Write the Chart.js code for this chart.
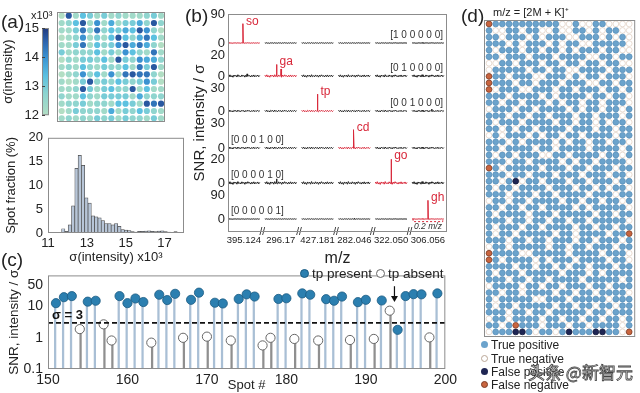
<!DOCTYPE html>
<html>
<head>
<meta charset="utf-8">
<title>tp detection figure</title>
<script src="https://cdn.jsdelivr.net/npm/chart.js@4.4.1/dist/chart.umd.min.js"></script>
<style>
  body { margin: 0; background: #fff; }
  #fig { position: relative; width: 640px; height: 393px; overflow: hidden; font-family: "Liberation Sans", Arial, sans-serif; color: #222; }
  #fig canvas { position: absolute; }
  .t { position: absolute; white-space: nowrap; line-height: 1; }
  .dot { position: absolute; border-radius: 50%; box-sizing: border-box; }
</style>
</head>
<body>
<div id="fig">
  <canvas id="heatMap" width="170" height="126" style="left:0;top:0"></canvas>
  <canvas id="colorBar" width="52" height="126" style="left:0;top:0"></canvas>
  <canvas id="histo" width="190" height="140" style="left:0;top:125px"></canvas>
  <canvas id="spectra" width="275" height="268" style="left:185px;top:0"></canvas>
  <canvas id="snrStem" width="460" height="131" style="left:0;top:262px"></canvas>
  <canvas id="kMap" width="180" height="343" style="left:460px;top:0"></canvas>

  <div class="t" style="left:1px;top:12px;font-size:19px">(a)</div>
  <div class="t" style="left:31px;top:10px;font-size:11px">x10³</div>
  <div class="t" style="left:185px;top:6px;font-size:19px">(b)</div>
  <div class="t" style="left:1px;top:250px;font-size:19px">(c)</div>
  <div class="t" style="left:461px;top:6px;font-size:19px">(d)</div>
  <div class="t" style="left:493px;top:7px;font-size:11px">m/z = [2M + K]⁺</div>

  <!-- (c) legend -->
  <div class="dot" style="left:300px;top:269px;width:9px;height:9px;background:#2b7fb0;border:1px solid #1b5b82"></div>
  <div class="t" style="left:312px;top:267px;font-size:13.5px">tp present</div>
  <div class="dot" style="left:376px;top:269px;width:9px;height:9px;background:#fff;border:1px solid #666"></div>
  <div class="t" style="left:388px;top:267px;font-size:13.5px">tp absent</div>

  <!-- (d) legend -->
  <div class="dot" style="left:481px;top:341px;width:7px;height:7px;background:#6ba3cc"></div>
  <div class="t" style="left:491px;top:339px;font-size:12px">True positive</div>
  <div class="dot" style="left:481px;top:355px;width:7px;height:7px;background:#fff;border:1px solid #b9a595"></div>
  <div class="t" style="left:491px;top:353px;font-size:12px">True negative</div>
  <div class="dot" style="left:481px;top:368px;width:7px;height:7px;background:#1e2553"></div>
  <div class="t" style="left:491px;top:366px;font-size:12px">False positive</div>
  <div class="dot" style="left:481px;top:381px;width:7px;height:7px;background:#c9653f;border:1px solid #7d3b25"></div>
  <div class="t" style="left:491px;top:379px;font-size:12px">False negative</div>
  <div class="t" style="left:528px;top:363px;font-size:17px;font-family:'Noto Sans CJK SC';color:#fff;-webkit-text-stroke:0.8px #444">头条 @新智元</div>
</div>

<script>
/* ---------- data ---------- */

// (a) σ(intensity) of every spot, one digit per spot: 0 = 12.0 ... 9 = 15.0 (x10^3)
const sigmaMapRows = [
  '081431312111231',
  '124816151335282',
  '113727243548620',
  '012613148425741',
  '113714236857520',
  '312224131642171',
  '021332418326552',
  '121421322417381',
  '012624161787720',
  '101382324323630',
  '112831342281411',
  '211421333315222',
  '122312214431878',
  '013222151324321',
  '121213231322131'
];
const sigmaLow = 12;
const sigmaHigh = 15;
const colorbarTicks = [12, 13, 14, 15];

// (a) histogram, spot fraction (%) per bin
const histStart = 11.7;
const histBinWidth = 0.17;
const histFraction = [0.9, 0.35, 1.7, 5.7, 13.6, 16.3, 14.2, 7.4, 6.3, 3.6, 3.4, 3.2, 2.6, 2.0, 2.0, 1.7, 2.0, 1.4,
  0.7, 0.6, 0.5, 0.3, 0.2, 0.35, 0.35, 0.4, 0.45, 0.35, 0.3, 0.4, 0.45, 0.3, 0.2, 0.15, 0.3];
const histTicks = [11, 13, 15, 17];

// (b) spectra, six spots x six m/z windows
const mzLabels = ['395.124', '296.17', '427.181', '282.046', '322.050', '306.056'];
const compounds = ['so', 'ga', 'tp', 'cd', 'go', 'gh'];
const barcodes = ['[1 0 0 0 0 0]', '[0 1 0 0 0 0]', '[0 0 1 0 0 0]', '[0 0 0 1 0 0]', '[0 0 0 0 1 0]', '[0 0 0 0 0 1]'];
const rowTopTick = [90, 20, 30, 30, 20, 90];
const noiseTrace = [0.8, -0.6, 1.1, -0.9, 0.4, -1.2, 0.9, -0.3, 0.7, -1.0, 1.2, -0.6, 0.3, -0.8, 1.0, -0.4, 0.6,
  -1.1, 0.8, -0.5, 1.1, -0.3, 0.4, -0.9, 0.7, -0.6, 1.0, -0.8, 0.5, -0.4, 0.9, -0.7, 0.5];
// [row, window, position in window (0..1), SNR]
const peaks = [
  [0, 0, 0.47, 60],
  [1, 1, 0.37, 11], [1, 1, 0.51, 6.7], [1, 0, 0.6, 2],
  [2, 2, 0.50, 22], [2, 5, 0.62, 2.5],
  [3, 3, 0.48, 22],
  [4, 4, 0.50, 21], [4, 1, 0.37, 3.5],
  [5, 5, 0.50, 72], [5, 3, 0.50, 2.5]
];

// (c) tp SNR for spots 151-199
const firstSpot = 151;
const spotSNR = [12.9, 20, 21.7, 1.9, 14.4, 15.4, 2.7, 0.82, 21.7, 12.9,
  18.2, 14, 0.7, 24, 16.2, 25.7, 1.0, 16.5, 28, 1.09,
  13.3, 12.6, 0.82, 17.6, 24.7, 21, 0.57, 1.0, 17.6, 18.5,
  0.92, 26.5, 24, 0.82, 17.3, 15.4, 21, 0.85, 13.9, 16.5,
  0.92, 15.7, 7.4, 1.8, 21.7, 25, 24.7, 1.03, 26.5];
// P = tp present, A = tp absent
const spotStatus = ('PPPAPPAAPP' + 'PPAPPPAPPA' + 'PPAPPPAAPP' + 'APPAPPPAPP' + 'APAPPPPAP').split('');
const snrThreshold = 3;
const snrTicks = [0.1, 1, 10, 50];

// (d) classification map, P true positive, N true negative, F false positive, X false negative
const kmapRows = [
  'XPPPPPPPPPPNNPNNPPNNNN',
  'PNNPPNPPNNPNNPPNPNPPNN',
  'PPNPPPNPNPPPNNPPPNPNPN',
  'PPPNPNPPPNPNPPNNPPPPPN',
  'PNPPPNPPNPPNPNPPPNPPNN',
  'PPNPPPNPPPNPPPPNNPPNPP',
  'NNPPNPPPNPPNPPNPPNPPNN',
  'NPPPPPNPPNPPNNPPPPNPPP',
  'XPPNPPPNNPPPNPNPPNPPPN',
  'XPPPNPPNPPPNPPPNNPPNPP',
  'XNPPPNNPPPNPPNPPPNPPNP',
  'PPPNPPPPNPNPPPPNPPNPPN',
  'PPNPPNPPPNPNPPNPPNPPPN',
  'NPPPNPPNPPPPNPNPPNPPNP',
  'PPPNPPNPPNPPPNPPNPPPNP',
  'PNPPPNPPPPNPPNPPNPNPPN',
  'PPNPNPPNPPPPNPPPNPPNPP',
  'NPNPPPNPNPPNPPNPPPPNPP',
  'PPPNPNPPPPNPNPPNPPNPPN',
  'PPNPPPPNPPNPPPPNPPPPNP',
  'PNPPNPPPNNPPNPPPPNPPNP',
  'PPPNPPNPPPPNPNPPNPPPPN',
  'XPNPPPPPNPPPNPPNPPPNPP',
  'PPPNPPNPPPNPPPNPPPNPPN',
  'PPNPFNPPNPPPNPPNPPPNPP',
  'PNPPNPPPPNPPPNPPNPNPPN',
  'PPPNPPPNPPNPPPPNPPPNPP',
  'NPPNPPNPPPPNPPNPPNPPNP',
  'PPNPPNPPNPPPPNPNPPPPPN',
  'PNPPPPNPPPNPPPPPNPPNPP',
  'PPPNPPNPPNPPNPPNPPPPPN',
  'PNPPPNPPNPPPPNPPNPPNPP',
  'PNPPNPPPPPNPPNPPPPNPPX',
  'PPPNPPNPPNPPPNPPNPPPNP',
  'NPPNPPPPPNPPNPPNPPPNPP',
  'XPPPPNNPPPPPNPPPPNPPPN',
  'XPNPPPPNPNPPPNPPPPNPPN',
  'PPPPNPPNPPNPNPPNPPPNPP',
  'PNPPPNPPPPPNPPPNPNPPPP',
  'PPPNPPNPPNPPPPNPPPPPNP',
  'NPPPPNPPNPPNPPPNPPNPPP',
  'PPNPPNPPPPNPPNPPNPPPPN',
  'PNPPPPPNNPPPNPPPPPNPPP',
  'PNPPNPPPPPNPPNPPNPPNPP',
  'PPPNPPNPPNPPPPPNPPNPPP',
  'NPPNPPPPNPPNPPNPPNPPNP',
  'PPNPXPPPNPPPNPPNPPPPNP',
  'NPPPFFPNPPNPFPPPFFPPNX'
];

/* ---------- common settings ---------- */
Chart.defaults.font.family = '"Liberation Sans", Arial, sans-serif';
Chart.defaults.color = '#222';
Chart.defaults.animation = false;
Chart.defaults.plugins.legend.display = false;
Chart.defaults.plugins.tooltip.enabled = false;

// grey box round the plot area (matlab style)
Chart.register({
  id: 'frame',
  afterDraw(chart, args, opts) {
    if (!opts.color) return;
    const {ctx, chartArea: a} = chart;
    ctx.save();
    ctx.strokeStyle = opts.color;
    ctx.lineWidth = 1;
    ctx.strokeRect(a.left + 0.5, a.top + 0.5, a.width - 1, a.height - 1);
    ctx.restore();
  }
});

const hidden = {display: false};
const noGrid = {display: false, drawTicks: false};

const heatStops = [[0, [178, 222, 196]], [0.25, [140, 212, 208]], [0.45, [92, 192, 224]], [0.65, [60, 150, 212]], [0.85, [44, 98, 172]], [1, [33, 58, 126]]];
function heatColor(f) {
	for (let i = 1; i < heatStops.length; i++) {
		const [f1, c1] = heatStops[i];
		const [f0, c0] = heatStops[i - 1];
		if (f <= f1) {
			const k = (f - f0) / (f1 - f0);
			return 'rgb(' + c0.map((c, j) => Math.round(c + (c1[j] - c) * k)).join(',') + ')';
		}
	}
	return 'rgb(' + heatStops[heatStops.length - 1][1].join(',') + ')';
}

/* ---------- (a) spot map ---------- */
function heatMap() {
	const pts = [], colors = [];
	sigmaMapRows.forEach((row, r) => row.split('').forEach((d, c) => {
		const v = sigmaLow + Number(d) / 9 * (sigmaHigh - sigmaLow);
		pts.push({x: c, y: r});
		colors.push(heatColor((v - sigmaLow) / (sigmaHigh - sigmaLow)));
	}));
	new Chart(document.getElementById('heatMap'), {
		type: 'scatter',
		data: {datasets: [{data: pts, pointRadius: 3.1, pointBackgroundColor: colors, pointBorderWidth: 0}]},
		options: {
			responsive: false,
			layout: {padding: {left: 57, top: 12, right: 5, bottom: 3}},
			scales: {
				x: {display: false, min: -0.66, max: 14.56},
				y: {display: false, min: -0.5, max: 14.5, reverse: true}
			},
			plugins: {frame: {color: '#8c8c8c'}}
		}
	});
}

/* ---------- (a) colour bar ---------- */
function colorBar() {
	const fill = {
		id: 'colorbarFill',
		beforeDatasetsDraw(chart) {
			const {ctx, chartArea: a, scales: {y}} = chart;
			const top = y.getPixelForValue(sigmaHigh), bot = y.getPixelForValue(sigmaLow);
			const g = ctx.createLinearGradient(0, bot, 0, top);
			heatStops.forEach(([f, c]) => g.addColorStop(f, 'rgb(' + c.join(',') + ')'));
			ctx.save();
			ctx.fillStyle = g;
			ctx.fillRect(a.left, top, a.width, bot - top);
			ctx.strokeStyle = '#8c8c8c';
			ctx.lineWidth = 1;
			ctx.strokeRect(a.left + 0.5, top + 0.5, a.width - 1, bot - top - 1);
			ctx.strokeStyle = '#444';
			colorbarTicks.forEach(v => {
				const p = Math.round(y.getPixelForValue(v)) + 0.5;
				ctx.beginPath(); ctx.moveTo(a.left, p); ctx.lineTo(a.left + 3, p); ctx.stroke();
			});
			ctx.restore();
		}
	};
	new Chart(document.getElementById('colorBar'), {
		type: 'scatter',
		data: {datasets: []},
		options: {
			responsive: false,
			layout: {padding: {top: 28, bottom: 8, right: 3}},
			scales: {
				x: hidden,
				y: {
					min: sigmaLow, max: sigmaHigh,
					afterBuildTicks: s => { s.ticks = colorbarTicks.map(v => ({value: v})); },
					afterFit: s => { s.width = 42; },
					ticks: {font: {size: 13}, padding: 3},
					grid: noGrid, border: {display: false},
					title: {display: true, text: 'σ(intensity)', font: {size: 13}, padding: {top: 1, bottom: 0}}
				}
			}
		},
		plugins: [fill]
	});
}

/* ---------- (a) histogram ---------- */
function histogram() {
	const bars = histFraction.map((v, i) => ({x: histStart + (i + 0.5) * histBinWidth, y: v}));
	new Chart(document.getElementById('histo'), {
		type: 'bar',
		data: {datasets: [{data: bars, backgroundColor: '#b7c5d7', borderColor: '#4a4a4a', borderWidth: 0.7, barPercentage: 1, categoryPercentage: 1}]},
		options: {
			responsive: false,
			layout: {padding: {top: 7, right: 6}},
			scales: {
				x: {
					type: 'linear', offset: false, min: 11, max: 18,
					afterBuildTicks: s => { s.ticks = histTicks.map(v => ({value: v})); },
					afterFit: s => { s.height = 32; },
					ticks: {font: {size: 13}, padding: 3},
					grid: noGrid, border: {display: false},
					title: {display: true, text: 'σ(intensity) x10³', font: {size: 13}, padding: 0}
				},
				y: {
					min: 0, max: 20,
					ticks: {stepSize: 5, font: {size: 13}, padding: 5},
					afterFit: s => { s.width = 48; },
					grid: noGrid, border: {display: false},
					title: {display: true, text: 'Spot fraction (%)', font: {size: 13}, padding: {top: 4, bottom: 0}}
				}
			},
			plugins: {frame: {color: '#8c8c8c'}}
		}
	});
}

/* ---------- (b) spectra ---------- */
const segGap = 0.16;
const xEnd = 6 + 5 * segGap + 0.1;
const rowMin = [-22.7, -10.2, -15.6, -13.6, -10.7, -50];
const rowMax = [90, 24.5, 31.7, 30, 20, 90];

function spectra() {
	const datasets = [];
	for (let r = 0; r < 6; r++) {
		for (let s = 0; s < 6; s++) {
			const x0 = s * (1 + segGap);
			const pts = noiseTrace.map((v, k) => ({x: x0 + k / (noiseTrace.length - 1), y: v}));
			peaks.filter(p => p[0] === r && p[1] === s).forEach(p => {
				const xp = x0 + p[2];
				pts.push({x: xp - 0.012, y: 0}, {x: xp, y: p[3]}, {x: xp + 0.012, y: 0});
			});
			pts.sort((a, b) => a.x - b.x);
			datasets.push({
				data: pts, yAxisID: 'y' + r, showLine: true, pointRadius: 0,
				borderColor: r === s ? '#d8283a' : '#1e1e1e', borderWidth: 1
			});
		}
	}

	const scales = {
		x: {
			type: 'linear', min: 0, max: xEnd,
			afterBuildTicks: s => { s.ticks = mzLabels.map((_, i) => ({value: i * (1 + segGap) + 0.5})); },
			afterFit: s => { s.height = 36; },
			ticks: {font: {size: 9.5}, padding: 3, maxRotation: 0, autoSkip: false, callback: (v, i) => mzLabels[i]},
			grid: noGrid, border: {display: false},
			title: {display: true, text: 'm/z', font: {size: 16}, padding: 0}
		}
	};
	// left axes of one stack are laid out from the last defined one at the top
	for (let r = 5; r >= 0; r--) {
		scales['y' + r] = {
			position: 'left', stack: 'rows', stackWeight: 1, min: rowMin[r], max: rowMax[r],
			afterBuildTicks: s => { s.ticks = [{value: 0}, {value: rowTopTick[r]}]; },
			afterFit: s => { s.width = 21; },
			ticks: {font: {size: 13}, padding: 3},
			grid: noGrid, border: {display: false}
		};
	}
	scales.yt = {
		position: 'left',
		afterFit: s => { s.width = 22; },
		ticks: {display: false}, grid: noGrid, border: {display: false},
		title: {display: true, text: 'SNR, intensity / σ', font: {size: 15}, padding: {top: 6, bottom: 0}}
	};

	const extras = {
		id: 'spectraText',
		afterDatasetsDraw(chart) {
			const {ctx, chartArea: a, scales: sc} = chart;
			const xs = sc.x;
			ctx.save();
			// barcodes
			ctx.font = '10px "Liberation Sans", Arial, sans-serif';
			ctx.fillStyle = '#333';
			ctx.textBaseline = 'middle';
			barcodes.forEach((txt, r) => {
				const y = sc['y' + r].getPixelForValue(0) - 8;
				if (r < 3) { ctx.textAlign = 'right'; ctx.fillText(txt, a.right - 4, y); }
				else { ctx.textAlign = 'left'; ctx.fillText(txt, a.left + 3, y); }
			});
			// compound names next to their peak
			ctx.font = '12px "Liberation Sans", Arial, sans-serif';
			ctx.fillStyle = '#d8283a';
			ctx.textAlign = 'left';
			ctx.textBaseline = 'alphabetic';
			compounds.forEach((name, r) => {
				const own = peaks.filter(p => p[0] === r && p[1] === r).sort((p, q) => q[3] - p[3])[0];
				const px = xs.getPixelForValue(r * (1 + segGap) + own[2]);
				const py = sc['y' + r].getPixelForValue(own[3]);
				ctx.fillText(name, px + 3, py + 1);
			});
			// 0.2 m/z scale bar under the last window
			const yb = sc.y5.getPixelForValue(-10);
			const xa = xs.getPixelForValue(5 * (1 + segGap)), xb = xs.getPixelForValue(6 + 5 * segGap);
			ctx.strokeStyle = '#d8283a';
			ctx.lineWidth = 1;
			ctx.setLineDash([2, 2]);
			ctx.beginPath();
			ctx.moveTo(xa + 1, yb - 3); ctx.lineTo(xa + 1, yb); ctx.lineTo(xb - 1, yb); ctx.lineTo(xb - 1, yb - 3);
			ctx.stroke();
			ctx.setLineDash([]);
			ctx.font = 'italic 8.5px "Liberation Sans", Arial, sans-serif';
			ctx.fillStyle = '#333';
			ctx.textAlign = 'center';
			ctx.textBaseline = 'middle';
			ctx.fillText('0.2 m/z', (xa + xb) / 2, yb + 5.5);
			// axis breaks
			ctx.font = '10px "Liberation Sans", Arial, sans-serif';
			for (let s = 0; s < 5; s++) {
				const gx = xs.getPixelForValue(s * (1 + segGap) + 1 + segGap / 2);
				ctx.fillStyle = '#fff';
				ctx.fillRect(gx - 3, a.bottom - 2, 6, 4);
				ctx.fillStyle = '#222';
				ctx.fillText('//', gx, a.bottom);
			}
			ctx.restore();
		}
	};

	new Chart(document.getElementById('spectra'), {
		type: 'scatter',
		data: {datasets: datasets},
		options: {
			responsive: false,
			layout: {padding: {top: 14, right: 13}},
			scales: scales,
			plugins: {frame: {color: '#8c8c8c'}}
		},
		plugins: [extras]
	});
}

/* ---------- (c) SNR of tp per spot ---------- */
function snrStems() {
	const present = [], absent = [];
	spotSNR.forEach((v, i) => {
		(spotStatus[i] === 'P' ? present : absent).push({x: firstSpot + i, y: v});
	});
	const yMin = snrTicks[0];
	const arrow = {spot: 193.6, from: 45, to: 14};

	const extras = {
		id: 'snrExtras',
		afterDatasetsDraw(chart) {
			const {ctx, chartArea: a, scales: {x, y}} = chart;
			const ty = y.getPixelForValue(snrThreshold);
			ctx.save();
			ctx.strokeStyle = '#111';
			ctx.lineWidth = 1.6;
			ctx.setLineDash([5, 3]);
			ctx.beginPath(); ctx.moveTo(a.left, ty); ctx.lineTo(a.right, ty); ctx.stroke();
			ctx.setLineDash([]);
			ctx.font = 'bold 13px "Liberation Sans", Arial, sans-serif';
			ctx.fillStyle = '#111';
			ctx.textBaseline = 'bottom';
			ctx.fillText('σ = ' + snrThreshold, a.left + 4, ty - 1);
			// arrow onto the mis-called spot
			const ax = x.getPixelForValue(arrow.spot);
			const a0 = y.getPixelForValue(arrow.from), a1 = y.getPixelForValue(arrow.to);
			ctx.lineWidth = 1.2;
			ctx.beginPath(); ctx.moveTo(ax, a0); ctx.lineTo(ax, a1 - 4); ctx.stroke();
			ctx.beginPath(); ctx.moveTo(ax - 3.5, a1 - 6); ctx.lineTo(ax + 3.5, a1 - 6); ctx.lineTo(ax, a1); ctx.closePath(); ctx.fill();
			ctx.restore();
		}
	};

	new Chart(document.getElementById('snrStem'), {
		type: 'bar',
		data: {
			datasets: [
				{type: 'scatter', data: present, pointRadius: 4.6, pointBackgroundColor: '#2b7fb0', pointBorderColor: '#1b5b82', pointBorderWidth: 0.8},
				{type: 'scatter', data: absent, pointRadius: 4.6, pointBackgroundColor: '#fff', pointBorderColor: '#666', pointBorderWidth: 1},
				{data: present.map(p => ({x: p.x, y: [yMin, p.y]})), backgroundColor: '#a9bfd5', barThickness: 1.6},
				{data: absent.map(p => ({x: p.x, y: [yMin, p.y]})), backgroundColor: '#8f8f8f', barThickness: 1.6}
			]
		},
		options: {
			responsive: false,
			layout: {padding: {top: 5, right: 12}},
			scales: {
				x: {
					type: 'linear', offset: false, min: 150, max: 200,
					ticks: {stepSize: 10, font: {size: 14}, padding: 3},
					afterFit: s => { s.height = 24; },
					grid: noGrid, border: {display: false},
					title: {display: true, text: 'Spot #', font: {size: 13}, padding: 0}
				},
				y: {
					type: 'logarithmic', min: 0.1, max: 100,
					afterBuildTicks: s => { s.ticks = snrTicks.map(v => ({value: v})); },
					afterFit: s => { s.width = 48; },
					ticks: {font: {size: 14}, padding: 5, callback: v => String(v)},
					grid: noGrid, border: {display: false},
					title: {display: true, text: 'SNR, intensity / σ', font: {size: 13.5}, padding: {top: 6, bottom: 0}}
				}
			},
			plugins: {frame: {color: '#8c8c8c'}}
		},
		plugins: [extras]
	});
}

/* ---------- (d) classification map ---------- */
function classMap() {
	const styles = {
		X: {bg: '#c9653f', border: '#7d3b25'},
		F: {bg: '#1e2553', border: '#141a3c'},
		P: {bg: '#6ba3cc', border: '#5a90ba'},
		N: {bg: '#ffffff', border: '#e2d2c5'}
	};
	const datasets = Object.keys(styles).map(code => {
		const pts = [];
		kmapRows.forEach((row, r) => row.split('').forEach((ch, c) => { if (ch === code) pts.push({x: c, y: r}); }));
		return {data: pts, pointRadius: 2.9, pointBackgroundColor: styles[code].bg, pointBorderColor: styles[code].border, pointBorderWidth: 0.8};
	});
	new Chart(document.getElementById('kMap'), {
		type: 'scatter',
		data: {datasets: datasets},
		options: {
			responsive: false,
			layout: {padding: {left: 24, right: 3, top: 20, bottom: 6}},
			scales: {
				x: {display: false, min: -0.75, max: 21.9},
				y: {display: false, min: -0.6, max: 47.78, reverse: true}
			},
			plugins: {frame: {color: '#8c8c8c'}}
		}
	});
}

heatMap();
colorBar();
histogram();
spectra();
snrStems();
classMap();
</script>
</body>
</html>
